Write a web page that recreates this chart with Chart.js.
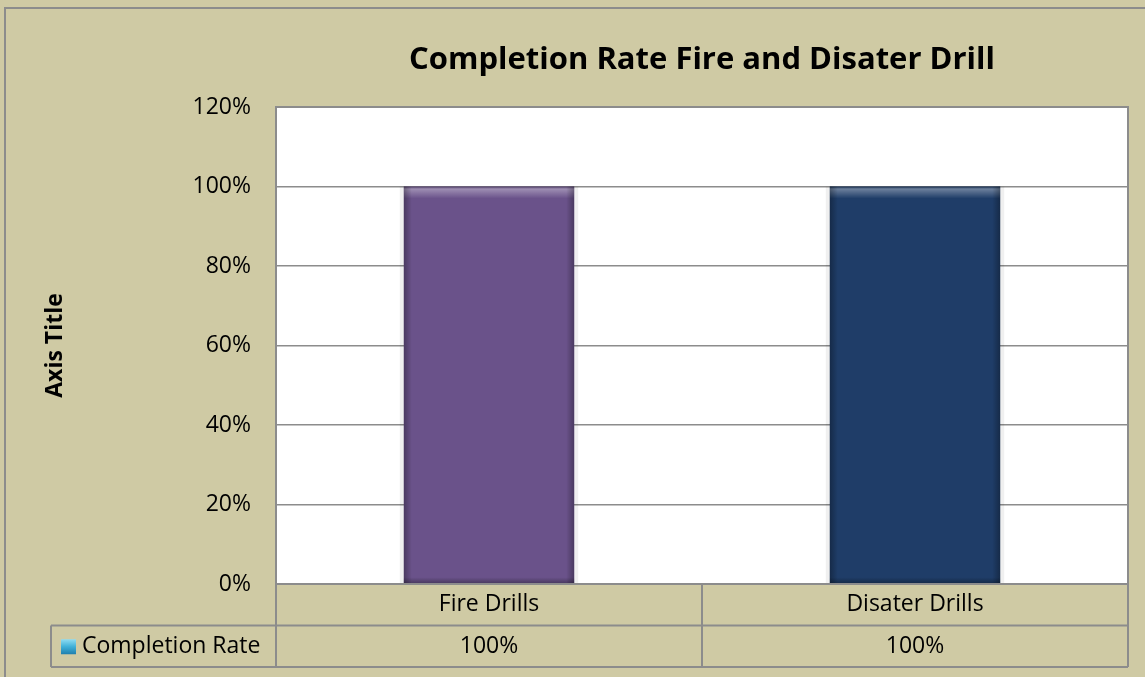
<!DOCTYPE html>
<html>
<head>
<meta charset="utf-8">
<title>Completion Rate Fire and Disater Drill</title>
<script src="https://cdn.jsdelivr.net/npm/chart.js@4.4.1/dist/chart.umd.min.js"></script>
<style>
  html, body { margin: 0; padding: 0; background: #cfcaa4; }
  #wrap { width: 1145px; height: 677px; }
</style>
</head>
<body>
<div id="wrap"><canvas id="chart" width="1145" height="677"></canvas></div>
<script>
const categories = ['Fire Drills', 'Disater Drills']
const completionRate = [1, 1]
const seriesName = 'Completion Rate'
const yTicks = [0, 0.2, 0.4, 0.6, 0.8, 1, 1.2]

const bgColor = '#cfcaa4'
const lineColor = '#8c8c8c'
const barColors = ['#6a528a', '#1f3d68']
const fontFamily = "'Open Sans', sans-serif"

const pct = (v) => `${Math.round(v * 100)}%`

// backdrop, white plot area and outer frame of the chart
const frame = {
  id: 'frame',
  beforeDraw(chart) {
    const { ctx, width, height, chartArea } = chart
    ctx.save()
    ctx.fillStyle = bgColor
    ctx.fillRect(0, 0, width, height)
    ctx.fillStyle = '#fff'
    ctx.fillRect(chartArea.left, chartArea.top, chartArea.right - chartArea.left, chartArea.bottom - chartArea.top)
    ctx.strokeStyle = lineColor
    ctx.lineWidth = 2
    ctx.strokeRect(5, 8, width + 20, height + 20)
    ctx.restore()
  },
  beforeDatasetsDraw(chart) {
    // soft halo around each column
    const { ctx } = chart
    ctx.save()
    chart.getDatasetMeta(0).data.forEach((bar) => {
      const left = bar.x - bar.width / 2
      ctx.fillStyle = 'rgba(0,0,0,0.06)'
      ctx.fillRect(left - 4, bar.y, bar.width + 8, bar.base - bar.y)
    })
    ctx.restore()
  },
  afterDatasetsDraw(chart) {
    // bevel shading on the columns
    const { ctx } = chart
    ctx.save()
    chart.getDatasetMeta(0).data.forEach((bar) => {
      const left = bar.x - bar.width / 2
      const w = bar.width
      const top = bar.y
      const h = bar.base - bar.y

      let g = ctx.createLinearGradient(0, top, 0, top + 12)
      g.addColorStop(0, 'rgba(0,0,0,0.25)')
      g.addColorStop(0.2, 'rgba(255,255,255,0.35)')
      g.addColorStop(1, 'rgba(255,255,255,0)')
      ctx.fillStyle = g
      ctx.fillRect(left, top, w, 12)

      g = ctx.createLinearGradient(left, 0, left + 8, 0)
      g.addColorStop(0, 'rgba(0,0,0,0.3)')
      g.addColorStop(1, 'rgba(0,0,0,0)')
      ctx.fillStyle = g
      ctx.fillRect(left, top, 8, h)

      g = ctx.createLinearGradient(left + w, 0, left + w - 8, 0)
      g.addColorStop(0, 'rgba(0,0,0,0.3)')
      g.addColorStop(1, 'rgba(0,0,0,0)')
      ctx.fillStyle = g
      ctx.fillRect(left + w - 8, top, 8, h)

      g = ctx.createLinearGradient(0, top + h, 0, top + h - 6)
      g.addColorStop(0, 'rgba(0,0,0,0.3)')
      g.addColorStop(1, 'rgba(0,0,0,0)')
      ctx.fillStyle = g
      ctx.fillRect(left, top + h - 6, w, 6)
    })
    ctx.restore()
  },
}

// plot border and the data table under the x axis
const dataTable = {
  id: 'dataTable',
  afterDraw(chart) {
    const { ctx, chartArea } = chart
    const x = chart.scales.x
    const { left, right, top, bottom } = chartArea
    const rowH = 41.5
    const row1 = bottom + rowH
    const row2 = bottom + rowH * 2
    const keyLeft = 51
    const step = (right - left) / categories.length

    ctx.save()
    ctx.strokeStyle = lineColor
    ctx.lineWidth = 2
    ctx.strokeRect(left, top, right - left, bottom - top)

    ctx.beginPath()
    ctx.moveTo(keyLeft, row1)
    ctx.lineTo(right, row1)
    ctx.moveTo(keyLeft, row2)
    ctx.lineTo(right, row2)
    ctx.moveTo(keyLeft, row1)
    ctx.lineTo(keyLeft, row2)
    for (let i = 0; i <= categories.length; i++) {
      const lx = left + step * i
      ctx.moveTo(lx, bottom)
      ctx.lineTo(lx, row2)
    }
    ctx.stroke()

    ctx.fillStyle = '#000'
    ctx.font = `23px ${fontFamily}`
    ctx.textAlign = 'center'
    ctx.textBaseline = 'middle'
    categories.forEach((cat, i) => {
      const cx = x.getPixelForValue(i)
      ctx.fillText(cat, cx, bottom + rowH / 2)
      ctx.fillText(pct(completionRate[i]), cx, row1 + rowH / 2)
    })

    // legend key
    const kx = 61
    const ky = row1 + rowH / 2 - 7
    const g = ctx.createLinearGradient(0, ky, 0, ky + 15)
    g.addColorStop(0, '#8fdcf2')
    g.addColorStop(0.5, '#3fb0d8')
    g.addColorStop(1, '#1f7fae')
    ctx.fillStyle = g
    ctx.fillRect(kx, ky, 15, 15)
    ctx.fillStyle = '#000'
    ctx.textAlign = 'left'
    ctx.fillText(seriesName, 82, row1 + rowH / 2)
    ctx.restore()
  },
}

const config = {
  type: 'bar',
  data: {
    labels: categories,
    datasets: [
      {
        label: seriesName,
        data: completionRate,
        backgroundColor: barColors,
        borderWidth: 0,
        barPercentage: 0.4,
        categoryPercentage: 1,
      },
    ],
  },
  options: {
    responsive: false,
    animation: false,
    layout: {
      padding: { left: 0, right: 17, top: 0, bottom: 0 },
    },
    scales: {
      x: {
        grid: { display: false },
        border: { display: false },
        ticks: { display: false },
        afterFit: (scale) => {
          scale.height = 93
        },
      },
      y: {
        min: 0,
        max: 1.2,
        afterBuildTicks: (scale) => {
          scale.ticks = yTicks.map((value) => ({ value }))
        },
        grid: {
          color: lineColor,
          lineWidth: 1.5,
          drawTicks: false,
        },
        border: { display: false },
        ticks: {
          padding: 25,
          color: '#000',
          font: { family: fontFamily, size: 23 },
          callback: (v) => pct(v),
        },
        title: {
          display: true,
          text: 'Axis Title',
          color: '#000',
          font: { family: fontFamily, size: 23, weight: 'bold' },
          padding: { top: 42, bottom: 0 },
        },
        afterFit: (scale) => {
          scale.width = 276
        },
      },
    },
    plugins: {
      legend: { display: false },
      tooltip: { enabled: false },
      title: {
        display: true,
        text: 'Completion Rate Fire and Disater Drill',
        color: '#000',
        fullSize: false,
        font: { family: fontFamily, size: 31, weight: 'bold' },
        padding: { top: 41.4, bottom: 28.4 },
      },
    },
  },
  plugins: [frame, dataTable],
}

new Chart(document.getElementById('chart').getContext('2d'), config)
</script>
</body>
</html>
